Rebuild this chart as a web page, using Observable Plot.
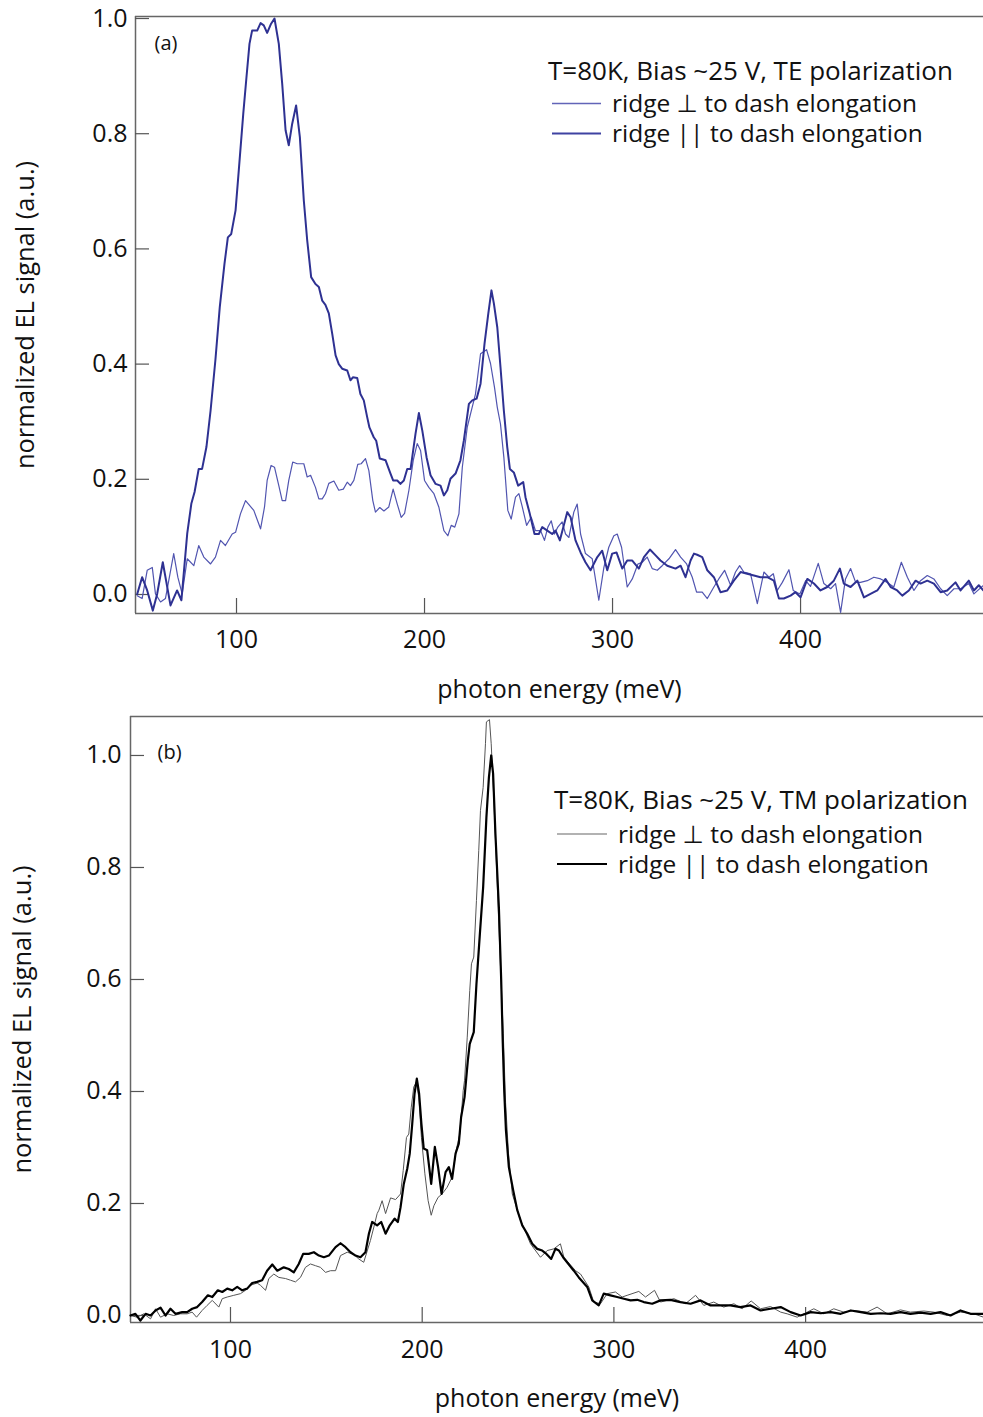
<!DOCTYPE html>
<html><head><meta charset="utf-8">
<script src="https://cdn.jsdelivr.net/npm/d3@7"></script>
<script src="https://cdn.jsdelivr.net/npm/@observablehq/plot@0.6"></script>
<style>
body{margin:0;background:#fff}
#wrap{width:983px}
#wrap svg{display:block}
</style>
</head><body><div id="wrap"></div>
<script>
// ---------- Panel (a): TE polarization ----------
const aParE = [47.2,49.8,52.5,55.5,57.8,60.8,64.9,68.4,70.7,73.8,76.0,77.7,79.9,81.7,84.0,86.2,88.8,91.1,93.6,95.4,97.2,99.5,101.2,103.6,105.3,106.9,108.3,111.0,112.8,114.5,116.3,118.4,120.2,122.5,124.3,126.1,127.8,129.6,131.7,133.7,135.8,137.6,139.7,142.0,143.8,145.6,147.3,149.1,150.9,152.7,154.4,156.2,158.9,160.6,161.9,164.2,165.9,167.7,169.5,170.7,173.0,174.3,176.2,179.3,181.9,183.3,185.5,187.2,189.0,190.8,192.6,195.2,197.0,198.8,201.1,203.2,205.9,208.5,210.3,212.1,213.8,216.5,219.1,220.9,223.6,225.4,227.7,229.8,231.9,233.9,235.6,236.9,238.7,240.4,242.2,244.0,245.4,247.5,249.8,252.5,253.7,256.0,258.5,260.8,262.6,265.3,267.9,269.7,272.0,275.9,277.7,280.3,283.0,285.6,288.3,291.9,294.5,297.2,299.8,302.1,305.2,307.8,310.5,314.0,316.7,319.9,322.9,325.5,329.1,333.5,336.2,338.8,341.5,343.3,345.0,347.7,350.4,353.9,357.4,361.0,364.5,368.1,371.6,375.2,378.7,382.3,385.8,388.5,391.1,394.7,397.3,400.0,403.6,407.1,410.6,414.2,417.7,420.9,423.0,426.6,430.2,433.7,437.2,440.8,445.2,447.9,451.4,454.1,457.6,461.2,463.8,467.4,470.9,474.5,478.0,482.4,485.1,489.5,492.2,494.8,497.3];
const aParV = [0.001,0.030,0.007,-0.028,0.001,0.056,-0.019,0.007,-0.010,0.106,0.158,0.178,0.218,0.218,0.256,0.319,0.408,0.499,0.574,0.620,0.626,0.667,0.736,0.835,0.898,0.956,0.979,0.979,0.992,0.988,0.975,0.991,1.000,0.956,0.887,0.806,0.780,0.817,0.849,0.794,0.684,0.615,0.551,0.539,0.534,0.510,0.503,0.488,0.453,0.415,0.400,0.392,0.389,0.372,0.377,0.376,0.348,0.337,0.308,0.290,0.273,0.267,0.236,0.233,0.210,0.198,0.198,0.192,0.198,0.218,0.218,0.279,0.315,0.285,0.238,0.207,0.192,0.189,0.172,0.181,0.201,0.210,0.233,0.267,0.331,0.337,0.340,0.366,0.435,0.487,0.528,0.505,0.464,0.395,0.319,0.256,0.218,0.212,0.189,0.195,0.169,0.140,0.105,0.105,0.117,0.111,0.105,0.111,0.094,0.143,0.134,0.094,0.073,0.056,0.042,0.065,0.076,0.042,0.071,0.073,0.045,0.059,0.059,0.045,0.065,0.078,0.068,0.059,0.050,0.045,0.050,0.030,0.059,0.071,0.069,0.065,0.042,0.030,0.004,0.007,0.024,0.039,0.036,0.033,0.030,0.030,0.024,-0.007,-0.007,-0.002,0.004,-0.005,0.027,0.019,0.007,0.013,0.024,0.045,0.019,0.013,0.024,-0.005,0.001,0.007,0.027,0.013,0.007,-0.002,0.007,0.024,0.019,0.024,0.019,0.004,0.007,0.021,0.007,0.024,0.007,0.016,0.007];
const aPerpE = [47.2,49.8,52.5,55.2,56.9,59.6,62.2,66.6,68.8,71.1,73.8,77.3,79.9,82.6,86.2,88.8,91.5,94.1,97.7,99.5,102.1,104.8,109.2,112.8,114.9,116.3,118.4,120.2,122.5,124.3,126.1,127.8,129.9,132.3,135.8,137.6,139.4,142.0,143.8,145.6,147.3,149.1,151.8,154.4,156.8,158.9,160.6,162.4,164.5,166.3,168.6,170.4,172.5,173.9,176.2,178.4,181.0,183.3,185.5,187.6,189.4,191.7,194.0,196.1,197.9,200.0,202.3,205.0,207.6,210.3,212.4,214.2,216.1,218.3,220.1,222.7,224.5,227.1,229.8,233.0,235.1,237.2,238.7,240.4,242.2,244.3,246.1,248.4,250.2,252.0,254.3,256.8,259.0,261.7,263.8,265.6,267.4,269.1,270.9,273.2,275.0,276.8,279.4,281.2,283.0,285.6,289.2,292.7,295.4,298.0,300.7,302.5,304.8,307.8,310.5,313.5,315.8,318.4,321.1,323.8,326.4,330.0,333.5,336.2,339.4,342.4,344.7,347.7,350.4,353.9,356.5,359.6,362.8,365.4,367.6,369.8,373.4,377.0,380.5,383.2,385.5,387.6,390.3,393.8,396.1,399.6,402.7,405.3,409.4,412.4,416.0,418.6,421.3,423.9,426.6,429.3,431.9,435.5,439.0,442.6,446.1,449.6,453.6,456.8,460.3,463.8,467.4,470.9,474.5,478.0,481.6,485.1,489.5,492.2,497.3];
const aPerpV = [-0.002,-0.007,0.042,0.047,0.001,-0.013,-0.007,0.071,0.030,0.001,0.062,0.050,0.085,0.065,0.053,0.065,0.094,0.085,0.105,0.108,0.140,0.163,0.146,0.114,0.152,0.198,0.224,0.221,0.189,0.163,0.163,0.198,0.230,0.227,0.227,0.204,0.207,0.186,0.166,0.166,0.175,0.193,0.197,0.181,0.183,0.195,0.189,0.198,0.226,0.227,0.236,0.215,0.163,0.143,0.151,0.145,0.152,0.183,0.157,0.134,0.141,0.181,0.233,0.262,0.250,0.198,0.186,0.175,0.152,0.111,0.102,0.120,0.117,0.140,0.221,0.290,0.314,0.348,0.418,0.425,0.401,0.360,0.325,0.296,0.238,0.146,0.131,0.169,0.175,0.152,0.120,0.134,0.111,0.111,0.094,0.117,0.128,0.105,0.117,0.126,0.105,0.099,0.143,0.157,0.105,0.071,0.062,-0.010,0.047,0.082,0.102,0.105,0.082,0.013,0.027,0.053,0.056,0.065,0.045,0.042,0.050,0.062,0.078,0.065,0.053,0.030,0.004,0.004,-0.007,0.013,0.027,0.042,0.016,0.039,0.050,0.039,0.036,-0.016,0.039,0.030,0.036,0.007,0.021,0.043,0.007,0.001,0.024,0.014,0.054,0.019,0.010,0.019,-0.031,0.027,0.045,0.021,0.021,0.024,0.030,0.027,0.021,0.013,0.056,0.030,0.007,0.024,0.033,0.027,0.010,-0.002,0.010,0.010,0.019,0.001,0.016];

// ---------- Panel (b): TM polarization ----------
const bParE = [47.8,50.4,53.0,55.7,58.3,60.9,63.5,66.1,68.7,71.3,74.8,77.4,80.0,82.6,85.2,88.2,90.5,93.4,95.7,98.3,100.9,103.5,106.1,108.7,111.3,113.9,116.5,119.1,121.8,124.4,127.8,130.4,133.0,135.6,137.9,140.8,143.5,146.1,148.7,151.3,154.8,157.4,160.0,162.6,165.2,167.8,170.4,172.2,173.9,176.5,178.6,180.9,183.1,185.6,187.3,188.7,190.4,192.2,193.5,194.8,196.0,197.2,198.4,199.6,200.8,202.6,204.7,206.6,208.3,210.1,212.2,213.9,215.6,217.4,219.1,220.3,222.1,223.8,224.8,226.9,228.3,230.1,231.8,233.5,234.8,236.0,237.0,238.2,240.0,241.2,242.0,242.8,243.7,245.2,247.5,249.6,252.2,254.8,257.4,260.0,262.6,264.8,267.3,269.5,271.3,273.5,276.5,279.1,281.7,286.1,288.7,292.1,294.7,298.2,301.7,305.2,308.7,312.2,315.6,320.0,324.3,329.5,334.7,340.0,345.2,350.4,355.7,360.8,366.0,371.3,376.5,381.7,387.0,392.2,397.4,402.7,407.9,413.1,418.3,423.6,428.8,434.0,439.1,444.3,449.5,454.7,460.0,465.2,470.4,475.6,480.8,486.0,492.8];
const bParV = [0.000,0.003,-0.009,0.003,0.000,0.009,0.014,0.000,0.012,0.003,0.006,0.006,0.012,0.015,0.024,0.036,0.033,0.045,0.042,0.048,0.045,0.051,0.045,0.048,0.058,0.060,0.063,0.080,0.091,0.080,0.086,0.083,0.077,0.092,0.110,0.110,0.113,0.107,0.104,0.107,0.122,0.129,0.122,0.113,0.107,0.104,0.113,0.146,0.167,0.161,0.167,0.146,0.161,0.173,0.167,0.193,0.235,0.262,0.289,0.342,0.396,0.423,0.396,0.342,0.298,0.295,0.235,0.301,0.265,0.217,0.256,0.265,0.244,0.289,0.307,0.354,0.390,0.455,0.485,0.506,0.592,0.682,0.765,0.890,0.961,1.000,0.967,0.860,0.729,0.600,0.490,0.400,0.330,0.265,0.223,0.188,0.161,0.146,0.128,0.119,0.116,0.110,0.101,0.119,0.116,0.104,0.091,0.080,0.068,0.051,0.027,0.018,0.039,0.036,0.033,0.030,0.027,0.028,0.024,0.021,0.027,0.028,0.024,0.021,0.027,0.018,0.018,0.018,0.015,0.018,0.009,0.012,0.015,0.006,0.000,0.006,0.004,0.006,0.003,0.009,0.006,0.003,0.004,0.003,0.006,0.003,0.005,0.003,0.006,0.000,0.009,0.003,0.003];
const bPerpE = [47.8,51.3,54.8,58.3,60.9,63.5,67.0,70.4,73.9,77.4,80.0,82.3,85.2,87.8,90.5,93.9,95.7,98.3,101.7,105.2,107.8,110.4,113.9,115.6,118.3,120.0,122.6,125.2,128.7,131.3,133.9,136.5,139.1,141.7,144.3,146.9,149.6,152.2,154.8,157.4,160.9,164.3,166.9,169.5,173.0,174.8,176.5,177.4,179.1,180.9,183.5,186.1,188.7,190.1,191.8,193.0,194.3,195.6,197.0,198.2,199.6,201.4,203.1,204.7,206.1,208.3,210.4,213.0,215.6,217.9,219.6,221.4,222.1,223.5,224.8,225.7,226.9,228.3,229.5,230.4,231.8,233.0,233.5,235.1,236.0,237.4,238.8,240.5,242.3,243.5,245.0,247.0,251.3,256.5,261.7,265.2,268.7,272.1,273.9,277.4,280.0,282.6,286.9,289.5,293.0,296.5,300.8,304.3,306.9,313.0,316.5,321.2,324.3,331.3,337.3,342.6,346.9,352.1,357.3,362.6,366.9,371.6,376.5,381.7,387.0,390.4,395.6,400.8,404.3,409.5,414.7,419.9,425.1,432.1,437.3,442.6,449.5,454.7,461.7,466.9,473.9,480.8,487.8,492.8];
const bPerpV = [0.000,-0.003,0.003,-0.006,0.012,-0.003,0.003,0.000,0.003,0.003,0.006,-0.003,0.009,0.018,0.027,0.015,0.030,0.033,0.036,0.039,0.045,0.054,0.058,0.054,0.045,0.066,0.074,0.068,0.066,0.063,0.060,0.068,0.086,0.092,0.089,0.086,0.077,0.080,0.080,0.107,0.113,0.109,0.101,0.095,0.134,0.158,0.182,0.188,0.205,0.182,0.210,0.207,0.217,0.259,0.318,0.324,0.372,0.408,0.417,0.390,0.318,0.253,0.205,0.179,0.196,0.211,0.217,0.229,0.247,0.298,0.324,0.402,0.420,0.497,0.580,0.628,0.640,0.741,0.830,0.902,0.943,1.021,1.060,1.064,1.021,0.920,0.800,0.652,0.503,0.380,0.290,0.217,0.170,0.128,0.104,0.116,0.119,0.128,0.104,0.090,0.080,0.074,0.051,0.024,0.021,0.039,0.042,0.033,0.036,0.043,0.033,0.045,0.024,0.030,0.021,0.036,0.018,0.024,0.015,0.021,0.012,0.026,0.012,0.016,0.006,0.003,-0.003,0.006,0.012,0.003,0.012,0.006,0.009,0.006,0.015,0.003,0.010,0.006,0.008,0.006,0.000,0.006,0.003,-0.003];

// ---------- Ticks & texts ----------
const xTicks = [100, 200, 300, 400];
const yTicks = [0, 0.2, 0.4, 0.6, 0.8, 1.0];
const xLabel = "photon energy (meV)";
const yLabel = "normalized EL signal (a.u.)";
const seriesNames = ["ridge \u22A5 to dash elongation", "ridge || to dash elongation"];
const aTitle = "T=80K, Bias ~25 V, TE polarization";
const bTitle = "T=80K, Bias ~25 V, TM polarization";
const aTag = "(a)";
const bTag = "(b)";

const FONT = "'Open Sans', 'DejaVu Sans', sans-serif";
const rows = (E, V) => E.map((e, i) => ({e, v: V[i]}));

function panel(cfg) {
  const chart = Plot.plot({
    width: 983,
    height: cfg.height,
    marginLeft: cfg.ml, marginRight: 0, marginTop: cfg.mt, marginBottom: cfg.mb,
    style: {fontFamily: FONT, fontSize: "25px", color: "#111", background: "#fff", overflow: "visible"},
    x: {domain: cfg.xDomain},
    y: {domain: cfg.yDomain},
    marks: [
      Plot.ruleX([cfg.xDomain[0]], {stroke: "#666", strokeWidth: 1.5}),
      Plot.ruleY([cfg.yDomain[0], cfg.yDomain[1]], {stroke: "#666", strokeWidth: 1.5}),
      Plot.axisX(xTicks, {tickSize: -15, tickPadding: cfg.xPad, stroke: "#555", strokeWidth: 1.2, fill: "#111", fontSize: 25, label: null, tickFormat: d => String(d)}),
      Plot.axisY(yTicks, {tickSize: -14, tickPadding: cfg.yPad, stroke: "#555", strokeWidth: 1.2, fill: "#111", fontSize: 25, label: null, tickFormat: d3.format(".1f")}),
      Plot.line(rows(cfg.perpE, cfg.perpV), {x: "e", y: "v", stroke: cfg.perpColor, strokeWidth: cfg.perpWidth}),
      Plot.line(rows(cfg.parE, cfg.parV), {x: "e", y: "v", stroke: cfg.parColor, strokeWidth: cfg.parWidth}),
      Plot.text([xLabel], {frameAnchor: "bottom", dy: 76, lineAnchor: "middle", textAnchor: "middle", fontSize: 25, fill: "#111"}),
      Plot.text([yLabel], {frameAnchor: "left", dx: cfg.ylDx, rotate: -90, lineAnchor: "middle", textAnchor: "middle", fontSize: 25.5, fill: "#111"}),
      Plot.text([cfg.tag], {frameAnchor: "top-left", dx: cfg.tagDx, dy: cfg.tagDy, lineAnchor: "middle", textAnchor: "start", fontSize: 20, fill: "#111"})
    ]
  });
  const svg = d3.select(chart);
  const g = svg.append("g").attr("font-family", FONT).attr("fill", "#111").attr("text-anchor", "start");
  g.append("text").attr("x", cfg.lg.tx).attr("y", cfg.lg.ty).attr("dy", "0.35em").attr("font-size", 26).text(cfg.title);
  const widths = [cfg.perpLegendWidth, cfg.parWidth];
  seriesNames.forEach((name, i) => {
    const y = cfg.lg.rows[i];
    g.append("line").attr("x1", cfg.lg.x1).attr("x2", cfg.lg.x2).attr("y1", y).attr("y2", y)
      .attr("stroke", cfg.legendColors[i]).attr("stroke-width", widths[i]);
    g.append("text").attr("x", cfg.lg.textX).attr("y", y).attr("dy", "0.35em").attr("font-size", 24.5).text(name);
  });
  return chart;
}

const wrap = document.getElementById("wrap");
wrap.appendChild(panel({
  height: 705, ml: 135, mt: 16, mb: 92,
  xDomain: [46.28, 497.3], yDomain: [-0.033, 1.0035],
  xPad: 32, yPad: 22, ylDx: -110,
  parE: aParE, parV: aParV, perpE: aPerpE, perpV: aPerpV,
  parColor: "#2e3192", parWidth: 2, perpColor: "#5155b0", perpWidth: 1.2, perpLegendWidth: 1.3,
  legendColors: ["#6264b8", "#3f42a2"],
  tag: aTag, tagDx: 19, tagDy: 27,
  title: aTitle,
  lg: {tx: 548, ty: 71, rows: [103.5, 133.5], x1: 552, x2: 601, textX: 612}
}));
wrap.appendChild(panel({
  height: 712, ml: 130, mt: 11, mb: 95,
  xDomain: [47.84, 492.8], yDomain: [-0.0125, 1.0696],
  xPad: 33, yPad: 23, ylDx: -108,
  parE: bParE, parV: bParV, perpE: bPerpE, perpV: bPerpV,
  parColor: "#000", parWidth: 2.2, perpColor: "#555", perpWidth: 1, perpLegendWidth: 1.5,
  legendColors: ["#999", "#000"],
  tag: bTag, tagDx: 27, tagDy: 36,
  title: bTitle,
  lg: {tx: 554, ty: 95, rows: [129, 159], x1: 557, x2: 607, textX: 618}
}));
</script>
</body></html>
